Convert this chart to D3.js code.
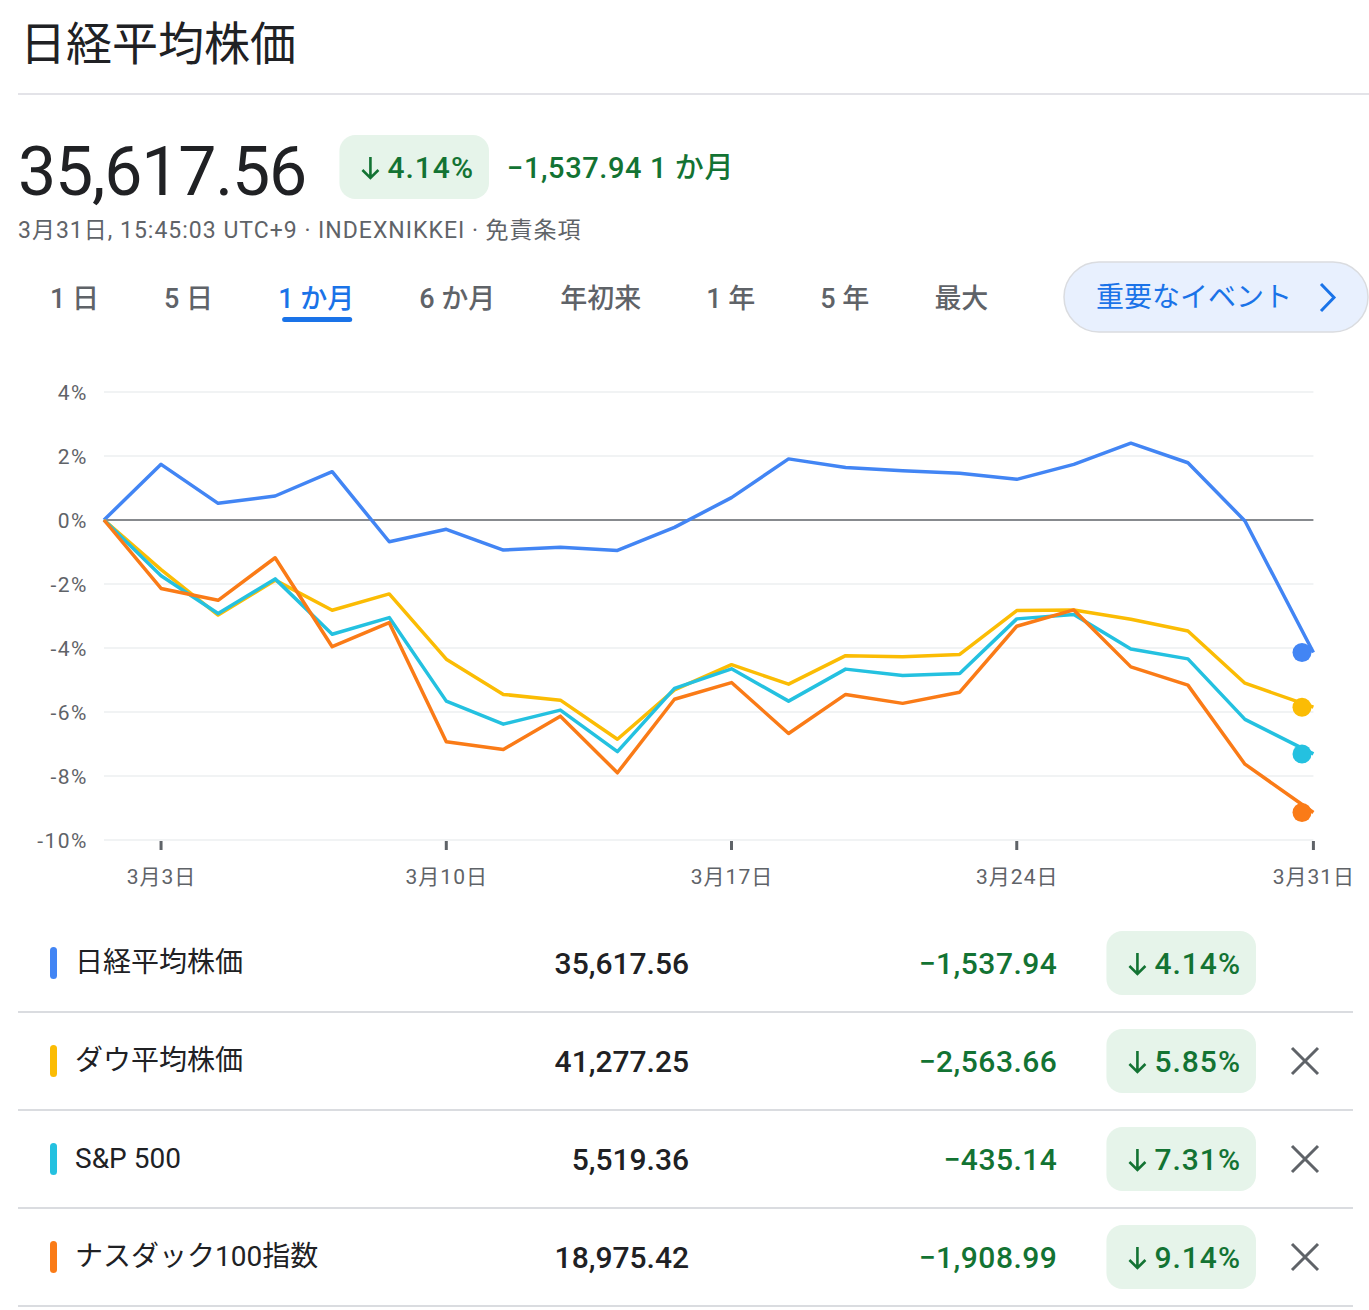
<!DOCTYPE html>
<html>
<head>
<meta charset="utf-8">
<script src="https://cdn.jsdelivr.net/npm/d3@7"></script>
<style>
    body { margin: 0; background: #fff; }
    svg { display: block; }
    text { font-family: Roboto, "Noto Sans CJK JP", sans-serif; }
</style>
</head>
<body>
<svg id="page"></svg>
<script>
// index names, last prices and 1 month changes
var indexNames = ["日経平均株価", "ダウ平均株価", "S&P 500", "ナスダック100指数"];
var lastPrices = [35617.56, 41277.25, 5519.36, 18975.42];
var priceChanges = [-1537.94, -2563.66, -435.14, -1908.99];
var pctChanges = [-4.14, -5.85, -7.31, -9.14];
var indexColors = ["#4285f4", "#fbbc04", "#24c1e0", "#fa7b17"];

// trading day positions (the last one runs into the 3/31 session)
var pointIndex = [0, 1, 2, 3, 4, 5, 6, 7, 8, 9, 10, 11, 12, 13, 14, 15, 16, 17, 18, 19, 20, 21.2];
var lastDayIndex = 21;

// percent change since 2/28 for every index
var nikkeiPct = [0, 1.74, 0.52, 0.75, 1.51, -0.68, -0.29, -0.94, -0.85, -0.95, -0.23, 0.70,
    1.91, 1.64, 1.54, 1.46, 1.27, 1.74, 2.40, 1.79, -0.03, -4.14];
var dowPct = [0, -1.55, -2.97, -1.88, -2.82, -2.31, -4.35, -5.45, -5.63, -6.85, -5.31, -4.52,
    -5.13, -4.24, -4.27, -4.20, -2.83, -2.81, -3.10, -3.47, -5.10, -5.85];
var spPct = [0, -1.74, -2.92, -1.84, -3.57, -3.05, -5.66, -6.38, -5.94, -7.24, -5.26, -4.65,
    -5.66, -4.66, -4.86, -4.80, -3.09, -2.95, -4.03, -4.34, -6.23, -7.31];
var nasdaqPct = [0, -2.14, -2.51, -1.18, -3.96, -3.21, -6.93, -7.17, -6.13, -7.90, -5.60, -5.08,
    -6.67, -5.45, -5.73, -5.38, -3.32, -2.81, -4.59, -5.16, -7.63, -9.14];
var allSeries = [nikkeiPct, dowPct, spPct, nasdaqPct];

// axis ticks
var yTicks = [4, 2, 0, -2, -4, -6, -8, -10];
var xTickIndex = [1, 6, 11, 16, 21.2];
var xTickLabels = ["3月3日", "3月10日", "3月17日", "3月24日", "3月31日"];

// range tabs
var tabLabels = ["1 日", "5 日", "1 か月", "6 か月", "年初来", "1 年", "5 年", "最大"];
var activeTab = 2;

var green = "#137333";
var grey = "#5f6368";
var fmt = d3.format(",.2f");

var svg = d3.select("#page").attr("width", 1369).attr("height", 1310);

// draw a green "down" badge ending at xRight
function drawBadge(xRight, cy, pct) {
    var g = svg.append("g");
    var label = g.append("text")
        .attr("x", xRight - 15)
        .attr("y", cy + 11)
        .attr("text-anchor", "end")
        .attr("font-size", 30)
        .attr("font-weight", 500)
        .attr("letter-spacing", 1)
        .attr("fill", green)
        .text(Math.abs(pct).toFixed(2) + "%");
    var textLeft = xRight - 15 - label.node().getComputedTextLength();
    var ax = textLeft - 17;
    var left = ax - 31;
    g.insert("rect", "text")
        .attr("x", left)
        .attr("y", cy - 32)
        .attr("width", xRight - left)
        .attr("height", 64)
        .attr("rx", 16)
        .attr("fill", "#e6f4ea");
    g.append("path")
        .attr("d", "M" + ax + "," + (cy - 10) + "V" + (cy + 11) +
            "M" + (ax - 8) + "," + (cy + 3) + "L" + ax + "," + (cy + 11) + "L" + (ax + 8) + "," + (cy + 3))
        .attr("fill", "none")
        .attr("stroke", green)
        .attr("stroke-width", 2.6);
    return left;
}

// title and divider
svg.append("text")
    .attr("x", 20).attr("y", 60)
    .attr("font-size", 46)
    .attr("fill", "#202124")
    .text(indexNames[0]);

svg.append("line")
    .attr("x1", 18).attr("x2", 1369)
    .attr("y1", 94).attr("y2", 94)
    .attr("stroke", "#e3e3e8")
    .attr("stroke-width", 2);

// price, badge and change
svg.append("text")
    .attr("x", 18).attr("y", 195)
    .attr("font-size", 68)
    .attr("letter-spacing", -1.2)
    .attr("fill", "#202124")
    .text(fmt(lastPrices[0]));

drawBadge(489, 167, pctChanges[0]);

svg.append("text")
    .attr("x", 507).attr("y", 178)
    .attr("font-size", 29)
    .attr("font-weight", 500)
    .attr("letter-spacing", 0.6)
    .attr("fill", green)
    .text(fmt(priceChanges[0]) + " 1 か月");

svg.append("text")
    .attr("x", 18).attr("y", 238)
    .attr("font-size", 23)
    .attr("letter-spacing", 1)
    .attr("fill", grey)
    .text("3月31日, 15:45:03 UTC+9 · INDEXNIKKEI · 免責条項");

// range tabs
var tabX = 50;
tabLabels.forEach(function(label, i) {
    var t = svg.append("text")
        .attr("x", tabX).attr("y", 308)
        .attr("font-size", 27)
        .attr("font-weight", 500)
        .attr("fill", i == activeTab ? "#1a73e8" : grey)
        .text(label);
    var w = t.node().getComputedTextLength();
    if (i == activeTab) {
        svg.append("rect")
            .attr("x", tabX + 4).attr("y", 317)
            .attr("width", w - 6).attr("height", 5)
            .attr("rx", 2.5)
            .attr("fill", "#1a73e8");
    }
    tabX += w + 65;
});

// key events button
svg.append("rect")
    .attr("x", 1064).attr("y", 262)
    .attr("width", 304).attr("height", 70)
    .attr("rx", 35)
    .attr("fill", "#e8f0fe")
    .attr("stroke", "#dadce0")
    .attr("stroke-width", 1.5);

svg.append("text")
    .attr("x", 1096).attr("y", 307)
    .attr("font-size", 28)
    .attr("fill", "#1a73e8")
    .text("重要なイベント");

svg.append("path")
    .attr("d", "M1321,284L1334,297.5L1321,311")
    .attr("fill", "none")
    .attr("stroke", "#1a73e8")
    .attr("stroke-width", 3);

// scales
var x = d3.scaleLinear().domain([0, lastDayIndex]).range([104, 1302]);
var y = d3.scaleLinear().domain([-10, 4]).range([840, 392]);
var gridRight = x(d3.max(pointIndex));

// gridlines and y labels
var chart = svg.append("g");
chart.selectAll(".grid")
    .data(yTicks)
    .enter().append("line")
    .attr("class", "grid")
    .attr("x1", x(0)).attr("x2", gridRight)
    .attr("y1", function(d) { return y(d); })
    .attr("y2", function(d) { return y(d); })
    .attr("stroke", function(d) { return d == 0 ? "#5f6368" : "#f1f3f4"; })
    .attr("stroke-width", function(d) { return d == 0 ? 1.6 : 2; });

chart.selectAll(".ylabel")
    .data(yTicks)
    .enter().append("text")
    .attr("class", "ylabel")
    .attr("x", 88)
    .attr("y", function(d) { return y(d) + 7.5; })
    .attr("text-anchor", "end")
    .attr("font-size", 21)
    .attr("letter-spacing", 1.5)
    .attr("fill", grey)
    .text(function(d) { return d + "%"; });

// x ticks and labels
chart.selectAll(".xtick")
    .data(xTickIndex)
    .enter().append("line")
    .attr("class", "xtick")
    .attr("x1", function(d) { return x(d); })
    .attr("x2", function(d) { return x(d); })
    .attr("y1", 841).attr("y2", 850)
    .attr("stroke", grey)
    .attr("stroke-width", 3);

chart.selectAll(".xlabel")
    .data(xTickLabels)
    .enter().append("text")
    .attr("class", "xlabel")
    .attr("x", function(d, i) { return x(xTickIndex[i]) + 0.5; })
    .attr("y", 884)
    .attr("text-anchor", "middle")
    .attr("font-size", 21)
    .attr("letter-spacing", 1)
    .attr("fill", grey)
    .text(function(d) { return d; });

// series lines
var line = d3.line()
    .x(function(d, i) { return x(pointIndex[i]); })
    .y(function(d) { return y(d); });

allSeries.forEach(function(series, i) {
    chart.append("path")
        .datum(series)
        .attr("d", line)
        .attr("fill", "none")
        .attr("stroke", indexColors[i])
        .attr("stroke-width", 3.5)
        .attr("stroke-linejoin", "round");
});

// end dots
allSeries.forEach(function(series, i) {
    chart.append("circle")
        .attr("cx", x(lastDayIndex))
        .attr("cy", y(series[series.length - 1]))
        .attr("r", 9.5)
        .attr("fill", indexColors[i]);
});

// comparison table
indexNames.forEach(function(name, i) {
    var cy = 963 + i * 98;

    svg.append("rect")
        .attr("x", 50).attr("y", cy - 16)
        .attr("width", 7).attr("height", 32)
        .attr("rx", 3.5)
        .attr("fill", indexColors[i]);

    svg.append("text")
        .attr("x", 75).attr("y", cy + 9)
        .attr("font-size", 28)
        .attr("fill", "#202124")
        .text(name);

    svg.append("text")
        .attr("x", 689).attr("y", cy + 11)
        .attr("text-anchor", "end")
        .attr("font-size", 30)
        .attr("font-weight", 500)
        .attr("fill", "#202124")
        .text(fmt(lastPrices[i]));

    var badgeLeft = drawBadge(1256, cy, pctChanges[i]);

    svg.append("text")
        .attr("x", badgeLeft - 49).attr("y", cy + 11)
        .attr("text-anchor", "end")
        .attr("font-size", 30)
        .attr("font-weight", 500)
        .attr("letter-spacing", 0.5)
        .attr("fill", green)
        .text(fmt(priceChanges[i]));

    // remove icon for the compared indexes
    if (i > 0) {
        svg.append("path")
            .attr("d", "M1292," + (cy - 13) + "L1318," + (cy + 13) + "M1318," + (cy - 13) + "L1292," + (cy + 13))
            .attr("stroke", grey)
            .attr("stroke-width", 3);
    }

    svg.append("line")
        .attr("x1", 18).attr("x2", 1353)
        .attr("y1", cy + 49).attr("y2", cy + 49)
        .attr("stroke", "#dadce0")
        .attr("stroke-width", 2);
});
</script>
</body>
</html>
